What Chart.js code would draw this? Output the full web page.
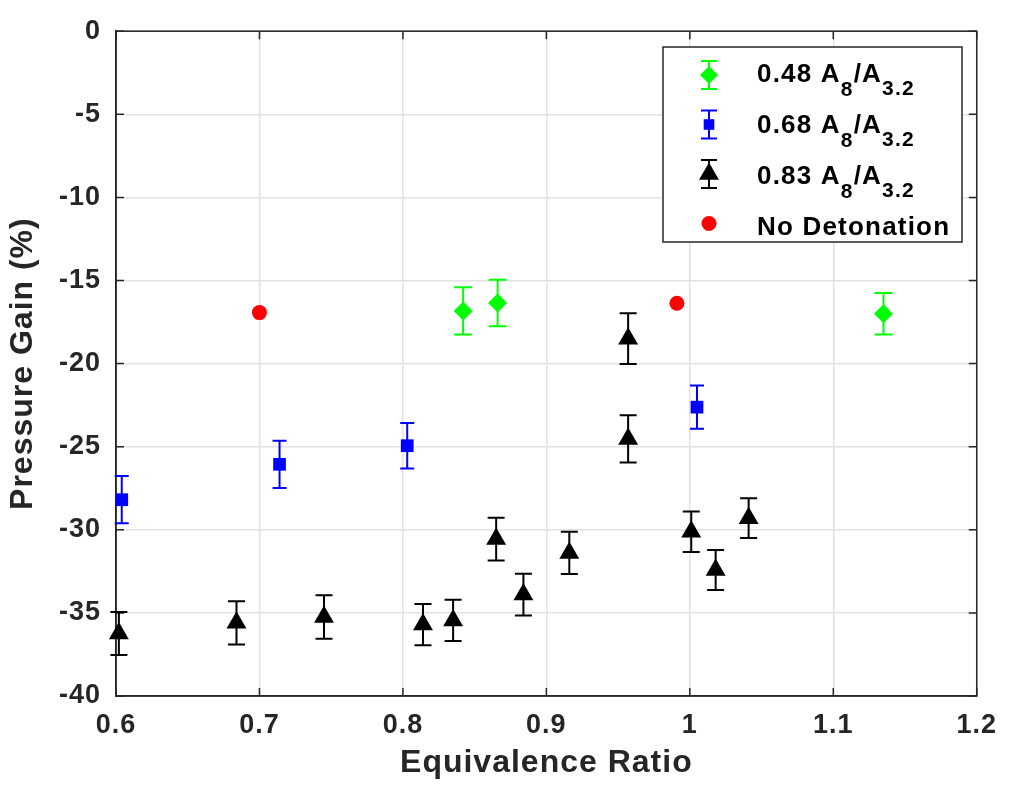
<!DOCTYPE html>
<html>
<head>
<meta charset="utf-8">
<script src="https://cdn.jsdelivr.net/npm/chart.js@4"></script>
<style>
html,body{margin:0;padding:0;background:#ffffff;}
#wrap{width:1010px;height:797px;}
canvas{display:block;}
</style>
</head>
<body>
<div id="wrap"><canvas id="c" width="1010" height="797"></canvas></div>
<script>
// ---- data ----
const xTickValues = [0.6, 0.7, 0.8, 0.9, 1.0, 1.1, 1.2];
const xTickLabels = ['0.6', '0.7', '0.8', '0.9', '1', '1.1', '1.2'];
const yTickValues = [0, -5, -10, -15, -20, -25, -30, -35, -40];
const yTickLabels = ['0', '-5', '-10', '-15', '-20', '-25', '-30', '-35', '-40'];

const greenX = [0.842, 0.866, 1.135];
const greenY = [-16.83, -16.36, -17.0];
const greenErr = [1.42, 1.40, 1.25];

const blueX = [0.604, 0.714, 0.803, 1.005];
const blueY = [-28.19, -26.06, -24.94, -22.62];
const blueErr = [1.42, 1.42, 1.37, 1.30];

const blackX = [0.602, 0.684, 0.745, 0.814, 0.835, 0.865, 0.884, 0.916, 0.957, 0.957, 1.001, 1.018, 1.041];
const blackY = [-36.24, -35.60, -35.25, -35.70, -35.45, -30.56, -33.90, -31.39, -18.50, -24.53, -30.12, -32.42, -29.30];
const blackErr = [1.30, 1.30, 1.31, 1.24, 1.24, 1.28, 1.25, 1.27, 1.53, 1.42, 1.22, 1.20, 1.20];

const redX = [0.700, 0.991];
const redY = [-16.93, -16.37];

const seriesRatios = ['0.48', '0.68', '0.83'];
const noDetLabel = 'No Detonation';
const xTitle = 'Equivalence Ratio';
const yTitle = 'Pressure Gain (%)';

// ---- styling ----
const FONT = "'Liberation Sans', Arial, Helvetica, sans-serif";
const AX = '#262626';
const GREEN = '#00ff00', BLUE = '#0000ff', BLACK = '#000000', RED = '#ff0000';

function pts(xs, ys) { return xs.map((x, i) => ({ x: x, y: ys[i] })); }

function setSpacing(chart) {
  try { chart.ctx.letterSpacing = '1px'; } catch (e) {}
}

const spacingPlugin = {
  id: 'spacing',
  beforeUpdate: setSpacing,
  beforeLayout: setSpacing,
  beforeDraw: setSpacing
};

const boxPlugin = {
  id: 'box',
  beforeDatasetsDraw(chart) {
    const { ctx, chartArea: a, scales: { x, y } } = chart;
    ctx.save();
    ctx.strokeStyle = AX;
    ctx.lineWidth = 1.5;
    ctx.strokeRect(a.left, a.top, a.right - a.left, a.bottom - a.top);
    ctx.beginPath();
    xTickValues.forEach(v => {
      const px = x.getPixelForValue(v);
      ctx.moveTo(px, a.bottom); ctx.lineTo(px, a.bottom - 8);
      ctx.moveTo(px, a.top); ctx.lineTo(px, a.top + 8);
    });
    yTickValues.forEach(v => {
      const py = y.getPixelForValue(v);
      ctx.moveTo(a.left, py); ctx.lineTo(a.left + 8, py);
      ctx.moveTo(a.right, py); ctx.lineTo(a.right - 8, py);
    });
    ctx.stroke();
    ctx.restore();
  }
};

const errorBarPlugin = {
  id: 'errorBars',
  beforeDatasetsDraw(chart) {
    const { ctx, scales: { x, y } } = chart;
    chart.data.datasets.forEach(ds => {
      if (!ds.errors) return;
      ctx.save();
      ctx.strokeStyle = ds.borderColor;
      ctx.lineWidth = 2;
      const cap = ds.capHalf;
      ds.data.forEach((p, j) => {
        const px = x.getPixelForValue(p.x);
        const t = y.getPixelForValue(p.y + ds.errors[j]);
        const b = y.getPixelForValue(p.y - ds.errors[j]);
        ctx.beginPath();
        ctx.moveTo(px, t); ctx.lineTo(px, b);
        ctx.moveTo(px - cap, t); ctx.lineTo(px + cap, t);
        ctx.moveTo(px - cap, b); ctx.lineTo(px + cap, b);
        ctx.stroke();
      });
      ctx.restore();
    });
  }
};

function drawMarker(ctx, style, x, y, r, color) {
  ctx.fillStyle = color;
  ctx.beginPath();
  if (style === 'rectRot') {
    ctx.moveTo(x, y - r); ctx.lineTo(x + r, y); ctx.lineTo(x, y + r); ctx.lineTo(x - r, y);
  } else if (style === 'rect') {
    const s = r * Math.SQRT1_2;
    ctx.rect(x - s, y - s, 2 * s, 2 * s);
  } else if (style === 'triangle') {
    const w = r * Math.sqrt(3) / 2;
    ctx.moveTo(x, y - r); ctx.lineTo(x + w, y + r / 2); ctx.lineTo(x - w, y + r / 2);
  } else {
    ctx.arc(x, y, r, 0, Math.PI * 2);
  }
  ctx.closePath();
  ctx.fill();
}

const legendPlugin = {
  id: 'customLegend',
  afterDraw(chart) {
    const ctx = chart.ctx;
    const L = 663, T = 47, R = 962, B = 242;
    ctx.save();
    ctx.fillStyle = '#ffffff';
    ctx.fillRect(L, T, R - L, B - T);
    ctx.strokeStyle = AX;
    ctx.lineWidth = 1.5;
    ctx.strokeRect(L, T, R - L, B - T);
    const mx = 709, tx = 757;
    const ds = chart.data.datasets;
    try { ctx.letterSpacing = '1.2px'; } catch (e) {}
    for (let i = 0; i < 4; i++) {
      const d = ds[i];
      const cy = 75 + i * 49.5;
      if (d.errors) {
        ctx.strokeStyle = d.borderColor;
        ctx.lineWidth = 2;
        ctx.beginPath();
        ctx.moveTo(mx, cy - 14); ctx.lineTo(mx, cy + 14);
        ctx.moveTo(mx - 8, cy - 14); ctx.lineTo(mx + 8, cy - 14);
        ctx.moveTo(mx - 8, cy + 14); ctx.lineTo(mx + 8, cy + 14);
        ctx.stroke();
      }
      drawMarker(ctx, d.pointStyle, mx, cy, d.legendRadius, d.backgroundColor);
      const base = 82 + i * 51;
      ctx.fillStyle = '#000000';
      ctx.textBaseline = 'alphabetic';
      ctx.textAlign = 'left';
      const big = 'bold 26px ' + FONT, small = 'bold 21px ' + FONT;
      if (i < 3) {
        let x = tx;
        ctx.font = big; ctx.fillText(seriesRatios[i] + ' A', x, base); x += ctx.measureText(seriesRatios[i] + ' A').width;
        ctx.font = small; ctx.fillText('8', x, base + 14); x += ctx.measureText('8').width;
        ctx.font = big; ctx.fillText('/A', x, base); x += ctx.measureText('/A').width;
        ctx.font = small; ctx.fillText('3.2', x, base + 13);
      } else {
        ctx.font = big; ctx.fillText(noDetLabel, tx, base);
      }
    }
    ctx.restore();
  }
};

const tickFont = { family: FONT, size: 27, weight: 'bold' };
const titleFont = { family: FONT, size: 32, weight: 'bold' };

new Chart(document.getElementById('c'), {
  type: 'scatter',
  data: {
    datasets: [
      { label: '0.48 A8/A3.2', data: pts(greenX, greenY), errors: greenErr, capHalf: 9,
        pointStyle: 'rectRot', pointRadius: 9.5, legendRadius: 9, backgroundColor: GREEN, borderColor: GREEN, borderWidth: 0, clip: false },
      { label: '0.68 A8/A3.2', data: pts(blueX, blueY), errors: blueErr, capHalf: 7,
        pointStyle: 'rect', pointRadius: 9, legendRadius: 7.5, backgroundColor: BLUE, borderColor: BLUE, borderWidth: 0, clip: false },
      { label: '0.83 A8/A3.2', data: pts(blackX, blackY), errors: blackErr, capHalf: 8.5,
        pointStyle: 'triangle', pointRadius: 11.5, legendRadius: 11.5, backgroundColor: BLACK, borderColor: BLACK, borderWidth: 0, clip: false },
      { label: 'No Detonation', data: pts(redX, redY),
        pointStyle: 'circle', pointRadius: 7.5, legendRadius: 7.5, backgroundColor: RED, borderColor: RED, borderWidth: 0, clip: false }
    ]
  },
  options: {
    responsive: false,
    devicePixelRatio: 1,
    animation: false,
    events: [],
    layout: { padding: { top: 21, right: 27.5, left: 0, bottom: 0 } },
    plugins: { legend: { display: false }, tooltip: { enabled: false } },
    scales: {
      x: {
        type: 'linear', min: 0.6, max: 1.2,
        afterBuildTicks: s => { s.ticks = xTickValues.map(v => ({ value: v })); },
        afterFit: s => { s.height = 101; },
        ticks: { callback: (v, i) => xTickLabels[i], font: tickFont, color: AX, padding: 13, maxRotation: 0, autoSkip: false },
        grid: { color: '#e2e2e2', lineWidth: 1.5, drawTicks: false },
        border: { display: true, color: AX, width: 1.5 },
        title: { display: true, text: xTitle, font: titleFont, color: AX, padding: { top: 0, bottom: 15 } }
      },
      y: {
        type: 'linear', min: -40, max: 0,
        afterBuildTicks: s => { s.ticks = yTickValues.map(v => ({ value: v })); },
        afterFit: s => { s.width = 116; },
        ticks: { callback: (v, i) => yTickLabels[i], font: tickFont, color: AX, padding: 15, autoSkip: false },
        grid: { color: '#e2e2e2', lineWidth: 1.5, drawTicks: false },
        border: { display: true, color: AX, width: 1.5 },
        title: { display: true, text: yTitle, font: titleFont, color: AX, padding: { top: 4, bottom: 0 } }
      }
    }
  },
  plugins: [spacingPlugin, boxPlugin, errorBarPlugin, legendPlugin]
});
</script>
</body>
</html>
